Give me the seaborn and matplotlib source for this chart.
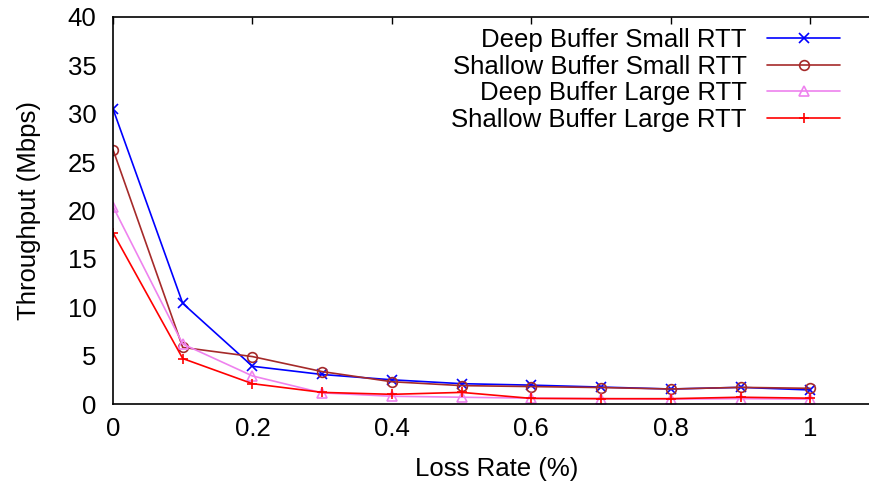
import numpy as np
import pandas as pd
import matplotlib
matplotlib.use("Agg")
import matplotlib.pyplot as plt
import seaborn as sns

# Loss rate (%) on the x axis
loss_rate = [0.0, 0.1, 0.2, 0.3, 0.4, 0.5, 0.6, 0.7, 0.8, 0.9, 1.0]

# Throughput (Mbps) for each buffer / RTT configuration
deep_small = [30.5, 10.4, 3.9, 3.05, 2.5, 2.1, 1.95, 1.75, 1.55, 1.72, 1.45]
shallow_small = [26.3, 5.85, 4.9, 3.35, 2.3, 1.9, 1.8, 1.7, 1.55, 1.72, 1.62]
deep_large = [20.4, 6.2, 2.9, 1.15, 0.8, 0.7, 0.6, 0.55, 0.5, 0.55, 0.5]
shallow_large = [17.7, 4.7, 2.1, 1.2, 1.0, 1.2, 0.58, 0.55, 0.55, 0.7, 0.6]

series_names = ["Deep Buffer Small RTT", "Shallow Buffer Small RTT",
                "Deep Buffer Large RTT", "Shallow Buffer Large RTT"]
series_values = [deep_small, shallow_small, deep_large, shallow_large]

x_ticks = [0, 0.2, 0.4, 0.6, 0.8, 1.0]
x_tick_labels = ["0", "0.2", "0.4", "0.6", "0.8", "1"]
y_ticks = [0, 5, 10, 15, 20, 25, 30, 35, 40]

styles = [
    dict(color="#0000ff", marker="x", mfc="#0000ff"),
    dict(color="#a52a2a", marker="o", mfc="none"),
    dict(color="#ee82ee", marker="^", mfc="none"),
    dict(color="#ff0000", marker="+", mfc="#ff0000"),
]

FS = 18.5

sns.set_theme(style="white")
plt.rcParams["font.family"] = ["Liberation Sans", "DejaVu Sans"]
plt.rcParams["font.size"] = FS
plt.rcParams["text.color"] = "black"
plt.rcParams["axes.labelcolor"] = "black"

fig = plt.figure(figsize=(8.7, 4.86), dpi=100)
ax = fig.add_axes([113 / 870, 82 / 486, 767 / 870, 387 / 486])

df = pd.DataFrame({"loss": loss_rate})
for name, vals, st in zip(series_names, series_values, styles):
    df[name] = vals
    sns.lineplot(data=df, x="loss", y=name, ax=ax, label=name,
                 color=st["color"], marker=st["marker"],
                 markersize=7, markerfacecolor=st["mfc"],
                 markeredgecolor=st["color"], markeredgewidth=1.2,
                 linewidth=1.2)

ax.set_xlim(0, 1.1)
ax.set_ylim(0, 40)
ax.set_xticks(x_ticks)
ax.set_xticklabels(x_tick_labels)
ax.set_yticks(y_ticks)
ax.tick_params(axis="both", direction="in", length=5, width=1,
               top=True, right=True, labelsize=FS, colors="black")
ax.tick_params(axis="x", pad=9)
ax.tick_params(axis="y", pad=12)
for sp in ax.spines.values():
    sp.set_color("black")
    sp.set_linewidth(1.2)

ax.set_xlabel("Loss Rate (%)", fontsize=FS, labelpad=12, color="black")
ax.set_ylabel("Throughput (Mbps)", fontsize=FS, labelpad=19, color="black")

leg = ax.legend(loc="upper right", bbox_to_anchor=(840 / 870, 1 - 28 / 486),
                bbox_transform=fig.transFigure, frameon=False,
                markerfirst=False, handlelength=2.84, handletextpad=0.78,
                labelspacing=0.1, borderpad=0, borderaxespad=0, fontsize=FS)
for t in leg.get_texts():
    t.set_color("black")

fig.savefig("out.png", dpi=100)
